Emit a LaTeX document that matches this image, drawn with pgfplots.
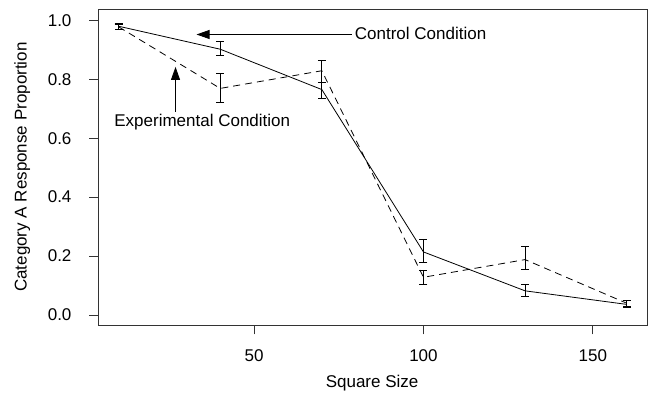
\documentclass[border=0pt]{standalone}
\usepackage{fontspec}
\setmainfont{Liberation Sans}
\usepackage{pgfplots}
\pgfplotsset{compat=1.18}
\usetikzlibrary{arrows.meta}

\begin{document}
\fontsize{17}{20}\selectfont
\begin{tikzpicture}
\useasboundingbox (-98.3pt,-74.7pt) rectangle (550.7pt,325.3pt);
\begin{axis}[
  at={(0pt,0pt)}, anchor=south west,
  scale only axis, width=548.7pt, height=316.3pt,
  xmin=4, xmax=166, ymin=-0.035, ymax=1.0385,
  axis line style={line width=0.8pt, black!80},
  xtick={50,100,150}, ytick={0,0.2,0.4,0.6,0.8,1},
  xtick pos=bottom, ytick pos=left, tick align=outside,
  major tick length=9pt,
  tick style={black!80, line width=0.8pt},
  /pgf/number format/assume math mode=true,
  yticklabel style={/pgf/number format/fixed,
    /pgf/number format/fixed zerofill,
    /pgf/number format/precision=1},
  yticklabel shift=12pt, xticklabel shift=9pt,
  xlabel={Square Size},
  ylabel={Category A Response Proportion},
  xlabel style={at={(axis description cs:0.499,-0.182)}, anchor=center},
  ylabel style={at={(axis description cs:-0.1385,0.5)}, anchor=center},
  clip=false,
  error bars/y dir=both, error bars/y explicit,
  error bars/error mark options={rotate=90, mark size=4pt, line width=0.8pt, solid},
  error bars/error bar style={line width=0.8pt, solid},
]
% Control condition (solid)
\addplot[black, line width=0.8pt, mark=none] coordinates {
  (10,0.980)  += (0,0.010) -= (0,0.010)
  (40,0.902)  += (0,0.025) -= (0,0.020)
  (70,0.765)  += (0,0.025) -= (0,0.030)
  (100,0.214) += (0,0.042) -= (0,0.037)
  (130,0.082) += (0,0.022) -= (0,0.018)
  (160,0.036) += (0,0.012) -= (0,0.009)
};
% Experimental condition (dashed)
\addplot[black, line width=0.8pt, mark=none, dash pattern=on 7pt off 5pt] coordinates {
  (10,0.978)  += (0,0.008) -= (0,0.008)
  (40,0.769)  += (0,0.051) -= (0,0.049)
  (70,0.829)  += (0,0.036) -= (0,0.039)
  (100,0.128) += (0,0.022) -= (0,0.023)
  (130,0.188) += (0,0.045) -= (0,0.034)
  (160,0.040) += (0,0.010) -= (0,0.010)
};
% Annotations
\draw[line width=0.8pt, -{Triangle[length=13pt,width=9pt]}]
  (axis cs:78.8,0.952) -- (axis cs:33,0.952);
\node[anchor=west, inner sep=0pt] at (axis cs:79.7,0.957) {Control Condition};
\draw[line width=0.8pt, -{Triangle[length=13pt,width=9pt]}]
  (axis cs:26.8,0.69) -- (axis cs:26.8,0.842);
\node[inner sep=0pt] at (axis cs:34.7,0.656) {Experimental Condition};
\end{axis}
\end{tikzpicture}
\end{document}
